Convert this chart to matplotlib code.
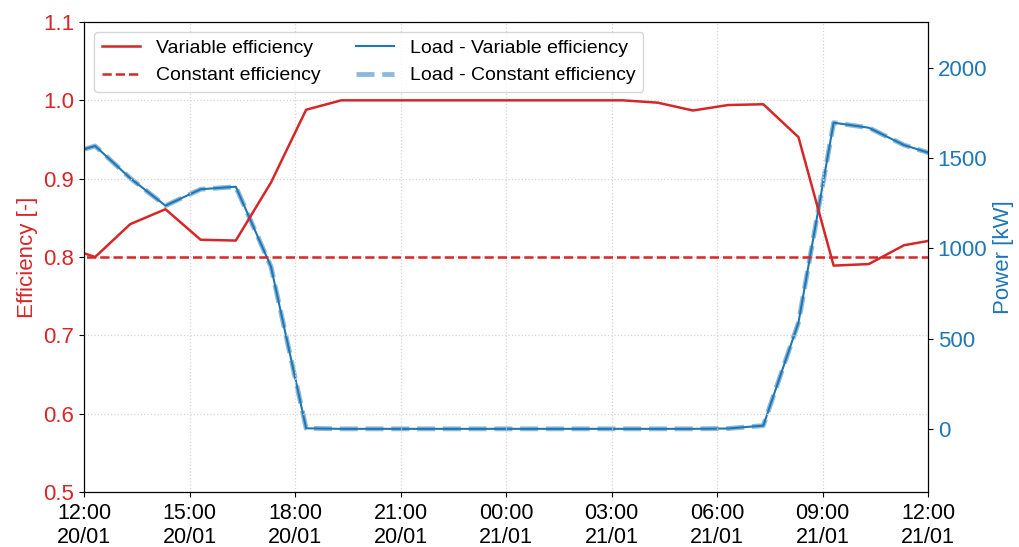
import matplotlib
matplotlib.use('Agg')
import matplotlib.pyplot as plt
import matplotlib.dates as mdates
import pandas as pd

plt.rcParams['font.family'] = ['Liberation Sans', 'DejaVu Sans']

# hourly samples, 11:19 20/01 -> 12:19 21/01
times = pd.date_range('2023-01-20 11:19', periods=26, freq='h')

eff_var = [0.815, 0.800, 0.842, 0.861, 0.822, 0.821, 0.895, 0.988, 1.0, 1.0,
           1.0, 1.0, 1.0, 1.0, 1.0, 1.0, 1.0, 0.997, 0.987, 0.994,
           0.995, 0.953, 0.789, 0.791, 0.815, 0.823]
eff_const = [0.8] * 26

load_var = [1510, 1568, 1389, 1237, 1328, 1342, 899, 3, 0, 0,
            0, 0, 0, 0, 0, 0, 0, 0, 0, 2,
            18, 589, 1697, 1669, 1573, 1512]
load_const = [1510, 1568, 1389, 1237, 1328, 1342, 899, 3, 0, 0,
              0, 0, 0, 0, 0, 0, 0, 0, 0, 2,
              18, 589, 1697, 1669, 1573, 1512]

red = '#d62728'
blue = '#1f77b4'

fig, ax1 = plt.subplots(figsize=(10.19, 5.47), dpi=100)
fig.subplots_adjust(left=84/1019, right=928/1019, top=1-22/547, bottom=1-492/547)
ax2 = ax1.twinx()

l1, = ax1.plot(times, eff_var, color=red, lw=1.8, label='Variable efficiency')
l2, = ax1.plot(times, eff_const, color=red, lw=1.8, ls='--', label='Constant efficiency')
l4, = ax2.plot(times, load_const, color=blue, lw=3.5, ls='--', alpha=0.5,
               label='Load - Constant efficiency')
l3, = ax2.plot(times, load_var, color=blue, lw=1.5, label='Load - Variable efficiency')

ax1.set_xlim(pd.Timestamp('2023-01-20 12:00'), pd.Timestamp('2023-01-21 12:00'))
ax1.set_ylim(0.5, 1.1)
ax2.set_ylim(-350, 2255)
ax2.set_yticks([0, 500, 1000, 1500, 2000])

ax1.xaxis.set_major_locator(mdates.HourLocator(byhour=[0, 3, 6, 9, 12, 15, 18, 21]))
ax1.xaxis.set_major_formatter(mdates.DateFormatter('%H:%M\n%d/%m'))

ax1.set_ylabel('Efficiency [-]', color=red, fontsize=16)
ax2.set_ylabel('Power [kW]', color=blue, fontsize=16)
ax1.tick_params(axis='y', colors=red, labelsize=16)
ax1.tick_params(axis='x', labelsize=15.5, pad=4.5)
ax2.tick_params(axis='y', colors=blue, labelsize=16)
for t in [ax1, ax2]:
    t.tick_params(axis='y', color='black')
    for s in t.spines.values():
        s.set_color('black')

ax1.grid(True, ls=':', color='#d5d5d5', lw=0.9)
ax1.set_zorder(ax2.get_zorder() + 1)
ax1.patch.set_visible(False)

ax1.legend([l1, l2, l3, l4], [l.get_label() for l in [l1, l2, l3, l4]],
           loc='upper left', ncol=2, fontsize=14, columnspacing=1.8)

fig.savefig('out.png', dpi=100)
